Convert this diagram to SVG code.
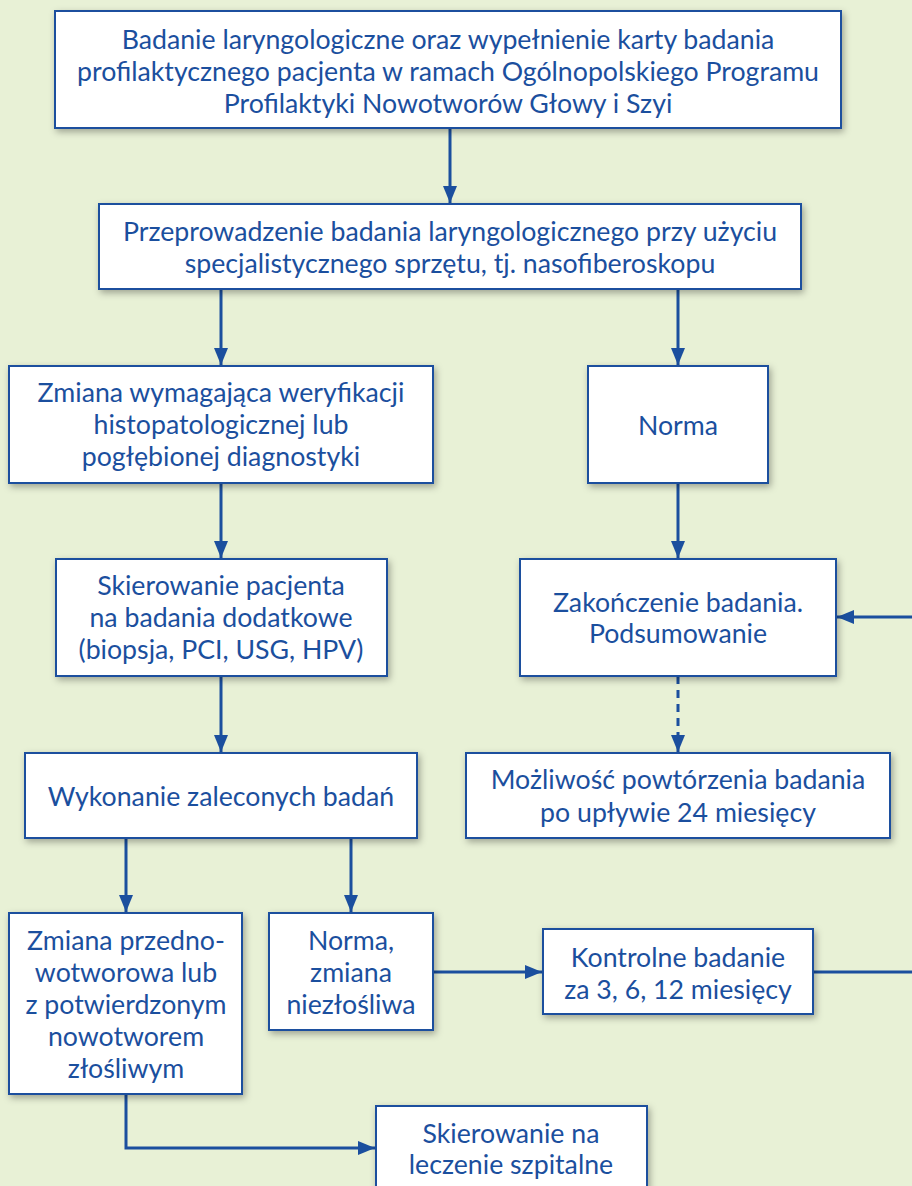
<svg xmlns="http://www.w3.org/2000/svg" width="912" height="1186" viewBox="0 0 912 1186">
<defs>
<filter id="sh" x="-10%" y="-20%" width="125%" height="150%">
<feDropShadow dx="2" dy="3" stdDeviation="3.5" flood-color="#000" flood-opacity="0.32"/>
</filter>
<marker id="ah" markerUnits="userSpaceOnUse" markerWidth="18" markerHeight="14" refX="17" refY="7" orient="auto">
<path d="M0,0 L17,7 L0,14 Z" fill="#1b4f9e"/>
</marker>
<style>
.box{fill:#fff;stroke:#1b4f9e;stroke-width:2;filter:url(#sh)}
.t{font-family:Lato,"Open Sans","Liberation Sans",sans-serif;font-size:26.7px;font-weight:400;fill:#1b4f9e;text-anchor:middle}
.c{fill:none;stroke:#1b4f9e;stroke-width:3;marker-end:url(#ah)}
.d{stroke-dasharray:8,6}
</style>
</defs>
<rect width="912" height="1186" fill="#e8f1d6"/>
<g id="connectors">
<path class="c" d="M450,128 V203"/>
<path class="c" d="M221,289 V365"/>
<path class="c" d="M678,289 V365"/>
<path class="c" d="M221,483 V558"/>
<path class="c" d="M678,483 V558"/>
<path class="c d" d="M678,676 V752"/>
<path class="c" d="M221,676 V752"/>
<path class="c" d="M126,838 V912"/>
<path class="c" d="M351,838 V912"/>
<path class="c" d="M433,972 H542"/>
<path class="c" d="M813,972 H930 V617 H837"/>
<path class="c" d="M126,1094 V1148 H375"/>
</g>
<g id="n1"><rect class="box" x="55" y="11" width="786" height="117"/>
<text class="t" x="448" y="49">Badanie laryngologiczne oraz wypełnienie karty badania</text>
<text class="t" x="448" y="81">profilaktycznego pacjenta w ramach Ogólnopolskiego Programu</text>
<text class="t" x="448" y="113">Profilaktyki Nowotworów Głowy i Szyi</text></g>
<g id="n2"><rect class="box" x="99" y="204" width="702" height="85"/>
<text class="t" x="450" y="241">Przeprowadzenie badania laryngologicznego przy użyciu</text>
<text class="t" x="450" y="273">specjalistycznego sprzętu, tj. nasofiberoskopu</text></g>
<g id="n3"><rect class="box" x="9" y="366" width="424" height="117"/>
<text class="t" x="221" y="402">Zmiana wymagająca weryfikacji</text>
<text class="t" x="221" y="434">histopatologicznej lub</text>
<text class="t" x="221" y="466">pogłębionej diagnostyki</text></g>
<g id="n4"><rect class="box" x="588" y="366" width="180" height="117"/>
<text class="t" x="678" y="435">Norma</text></g>
<g id="n5"><rect class="box" x="56" y="559" width="331" height="117"/>
<text class="t" x="221" y="595">Skierowanie pacjenta</text>
<text class="t" x="221" y="627">na badania dodatkowe</text>
<text class="t" x="221" y="659">(biopsja, PCI, USG, HPV)</text></g>
<g id="n6"><rect class="box" x="520" y="559" width="316" height="117"/>
<text class="t" x="678" y="612">Zakończenie badania.</text>
<text class="t" x="678" y="643">Podsumowanie</text></g>
<g id="n7"><rect class="box" x="25" y="753" width="392" height="85"/>
<text class="t" x="221" y="806">Wykonanie zaleconych badań</text></g>
<g id="n8"><rect class="box" x="466" y="753" width="424" height="85"/>
<text class="t" x="678" y="789">Możliwość powtórzenia badania</text>
<text class="t" x="678" y="822">po upływie 24 miesięcy</text></g>
<g id="n9"><rect class="box" x="9" y="913" width="233" height="181"/>
<text class="t" x="126" y="950">Zmiana przedno-</text>
<text class="t" x="126" y="982">wotworowa lub</text>
<text class="t" x="126" y="1014">z potwierdzonym</text>
<text class="t" x="126" y="1046">nowotworem</text>
<text class="t" x="126" y="1078">złośliwym</text></g>
<g id="n10"><rect class="box" x="269" y="913" width="164" height="117"/>
<text class="t" x="351" y="950">Norma,</text>
<text class="t" x="351" y="982">zmiana</text>
<text class="t" x="351" y="1014">niezłośliwa</text></g>
<g id="n11"><rect class="box" x="543" y="929" width="270" height="85"/>
<text class="t" x="678" y="967">Kontrolne badanie</text>
<text class="t" x="678" y="999">za 3, 6, 12 miesięcy</text></g>
<g id="n12"><rect class="box" x="376" y="1106" width="271" height="117"/>
<text class="t" x="511" y="1143">Skierowanie na</text>
<text class="t" x="511" y="1174">leczenie szpitalne</text></g>
</svg>
